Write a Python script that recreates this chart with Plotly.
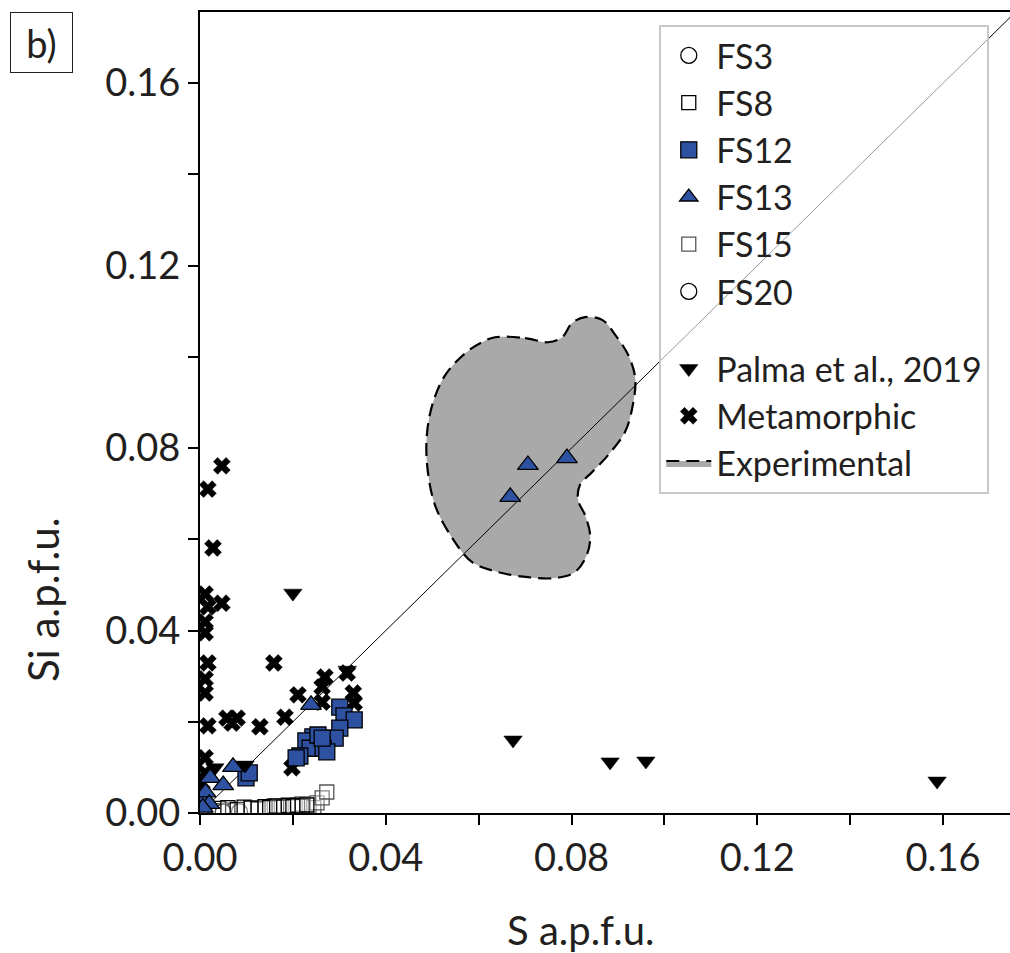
import plotly.graph_objects as go

# ---------------- data (S a.p.f.u., Si a.p.f.u.) ----------------
fs3_s = [0.0012, 0.0025, 0.0040, 0.0055, 0.0070]
fs3_si = [0.0004, 0.0006, 0.0003, 0.0005, 0.0004]

fs8_s = [0.0040, 0.0060, 0.0080, 0.0095, 0.0110, 0.0125, 0.0140, 0.0150, 0.0165, 0.0180,
         0.0190, 0.0200, 0.0210, 0.0220, 0.0230]
fs8_si = [0.0010, 0.0012, 0.0008, 0.0013, 0.0011, 0.0009, 0.0014, 0.0012, 0.0015, 0.0013,
          0.0016, 0.0014, 0.0017, 0.0015, 0.0018]

fs12_s = [0.0301, 0.0310, 0.0332, 0.0301, 0.0291, 0.0258, 0.0243, 0.0228, 0.0237, 0.0215,
          0.0207, 0.0265, 0.0273, 0.0254, 0.0263, 0.0099, 0.0106]
fs12_si = [0.0232, 0.0213, 0.0204, 0.0186, 0.0164, 0.0153, 0.0167, 0.0158, 0.0142, 0.0125,
           0.0121, 0.0142, 0.0134, 0.0171, 0.0164, 0.0077, 0.0088]

fs13_s = [0.0706, 0.0790, 0.0668, 0.0239, 0.0071, 0.0022, 0.0050, 0.0008, 0.0012, 0.0020, 0.0006]
fs13_si = [0.0763, 0.0778, 0.0693, 0.0237, 0.0101, 0.0077, 0.0061, 0.0030, 0.0045, 0.0020, 0.0012]

fs15_s = [0.0140, 0.0160, 0.0175, 0.0190, 0.0205, 0.0220, 0.0235, 0.0245, 0.0252, 0.0263, 0.0273]
fs15_si = [0.0012, 0.0016, 0.0013, 0.0018, 0.0015, 0.0020, 0.0017, 0.0012, 0.0022, 0.0033, 0.0046]

fs20_s = [0.0015, 0.0035, 0.0050, 0.0085]
fs20_si = [0.0002, 0.0003, 0.0002, 0.0003]

palma_s = [0.0200, 0.0317, 0.0674, 0.0883, 0.0960, 0.1587, 0.0032, 0.0097]
palma_si = [0.0482, 0.0313, 0.0160, 0.0112, 0.0114, 0.0070, 0.0099, 0.0105]

meta_s = [0.0047, 0.0017, 0.0028, 0.0011, 0.0017, 0.0047, 0.0011, 0.0011, 0.0017, 0.0159,
          0.0011, 0.0011, 0.0269, 0.0263, 0.0211, 0.0263, 0.0317, 0.0330, 0.0332, 0.0058,
          0.0080, 0.0069, 0.0017, 0.0129, 0.0183, 0.0011, 0.0198, 0.0011, 0.0004, 0.0004]
meta_si = [0.0761, 0.0710, 0.0581, 0.0480, 0.0452, 0.0460, 0.0419, 0.0395, 0.0329, 0.0329,
           0.0294, 0.0263, 0.0298, 0.0276, 0.0259, 0.0243, 0.0307, 0.0263, 0.0241, 0.0208,
           0.0208, 0.0197, 0.0191, 0.0189, 0.0210, 0.0121, 0.0099, 0.0088, 0.0066, 0.0044]

exp_s = [0.0635, 0.0700, 0.0749, 0.0780, 0.0801, 0.0829, 0.0866, 0.0894, 0.0922, 0.0937,
         0.0932, 0.0915, 0.0879, 0.0844, 0.0818, 0.0814, 0.0829, 0.0840, 0.0833, 0.0807,
         0.0764, 0.0706, 0.0642, 0.0586, 0.0543, 0.0506, 0.0489, 0.0489, 0.0502, 0.0528,
         0.0571, 0.0607, 0.0635]
exp_si = [0.1043, 0.1041, 0.1032, 0.1043, 0.1074, 0.1087, 0.1081, 0.1048, 0.1004, 0.0954,
          0.0895, 0.0835, 0.0785, 0.0747, 0.0719, 0.0686, 0.0653, 0.0609, 0.0566, 0.0528,
          0.0515, 0.0517, 0.0528, 0.0550, 0.0603, 0.0675, 0.0763, 0.0835, 0.0901, 0.0960,
          0.1008, 0.1032, 0.1043]

one_to_one = [0.0, 0.2]

x_ticks = [0.00, 0.04, 0.08, 0.12, 0.16]
x_ticklabels = ["0.00", "0.04", "0.08", "0.12", "0.16"]
y_ticks = [0.00, 0.04, 0.08, 0.12, 0.16]
y_ticklabels = ["0.00", "0.04", "0.08", "0.12", "0.16"]

x_title = "S a.p.f.u."
y_title = "Si a.p.f.u."

# ---------------- figure ----------------
FONT = "Lato, 'Open Sans', sans-serif"
INK = "#231F20"
BLUE = "#2E52A1"

fig = go.Figure()

# experimental field
fig.add_trace(go.Scatter(
    x=exp_s, y=exp_si, mode="lines", name="Experimental",
    fill="toself", fillcolor="#A9A9A9",
    line=dict(color="black", width=2.2, dash="13px,7px", shape="spline", smoothing=1.0),
    legendgroup="b", legendrank=9,
))

# 1:1 line
fig.add_trace(go.Scatter(
    x=one_to_one, y=one_to_one, mode="lines", showlegend=False,
    line=dict(color="black", width=1), hoverinfo="skip",
))

fig.add_trace(go.Scatter(
    x=meta_s, y=meta_si, mode="markers", name="Metamorphic",
    marker=dict(symbol="x", size=15, color="black", line=dict(color="black", width=0.5)),
    legendgroup="b", legendrank=8,
))

fig.add_trace(go.Scatter(
    x=fs3_s, y=fs3_si, mode="markers", name="FS3",
    marker=dict(symbol="circle", size=16, color="white", line=dict(color="black", width=1.3)),
    legendgroup="a", legendrank=1,
))
fig.add_trace(go.Scatter(
    x=fs20_s, y=fs20_si, mode="markers", name="FS20",
    marker=dict(symbol="circle", size=16, color="white", line=dict(color="black", width=1.3)),
    legendgroup="a", legendrank=6,
))
fig.add_trace(go.Scatter(
    x=fs15_s, y=fs15_si, mode="markers", name="FS15",
    marker=dict(symbol="square", size=14, color="rgba(255,255,255,0.3)", line=dict(color="#555555", width=1.3)),
    legendgroup="a", legendrank=5,
))
fig.add_trace(go.Scatter(
    x=fs8_s, y=fs8_si, mode="markers", name="FS8",
    marker=dict(symbol="square", size=14, color="rgba(255,255,255,0.3)", line=dict(color="black", width=1.3)),
    legendgroup="a", legendrank=2,
))
fig.add_trace(go.Scatter(
    x=fs12_s, y=fs12_si, mode="markers", name="FS12",
    marker=dict(symbol="square", size=16, color=BLUE, line=dict(color="black", width=1.3)),
    legendgroup="a", legendrank=3,
))
fig.add_trace(go.Scatter(
    x=palma_s, y=palma_si, mode="markers", name="Palma et al., 2019",
    marker=dict(symbol="triangle-down", size=16, color="black", line=dict(color="black", width=0.5)),
    legendgroup="b", legendrank=7,
))
fig.add_trace(go.Scatter(
    x=fs13_s, y=fs13_si, mode="markers", name="FS13",
    marker=dict(symbol="triangle-up", size=18, color=BLUE, line=dict(color="black", width=1.3)),
    legendgroup="a", legendrank=4,
))

axis_common = dict(
    showline=True, linecolor="black", linewidth=2,
    ticks="outside", ticklen=10, tickwidth=1.5, tickcolor="black",
    showgrid=False, zeroline=False,
    tickfont=dict(family=FONT, size=38, color=INK),
    minor=dict(ticks="outside", ticklen=10, tickwidth=1.5, tickcolor="black", dtick=0.02, showgrid=False),
)

fig.update_xaxes(range=[0, 0.1744], tickvals=x_ticks, ticktext=x_ticklabels, mirror=True, **axis_common)
fig.update_yaxes(range=[0, 0.1756], tickvals=y_ticks, ticktext=y_ticklabels, mirror=False, **axis_common)

fig.update_layout(
    width=1010, height=953,
    margin=dict(l=200, r=0, t=12, b=140, autoexpand=False),
    paper_bgcolor="white", plot_bgcolor="white",
    font=dict(family=FONT, color=INK),
    showlegend=True,
    legend=dict(
        x=0.567, y=0.984, xanchor="left", yanchor="top",
        bgcolor="rgba(255,255,255,0.6)", bordercolor="#C8C8C8", borderwidth=2,
        font=dict(family=FONT, size=34, color=INK),
        traceorder="grouped", tracegroupgap=30, itemsizing="trace", itemwidth=45,
    ),
    annotations=[
        dict(text="b)", xref="paper", yref="paper", x=-0.2346, y=1.0,
             xanchor="left", yanchor="top", showarrow=False,
             font=dict(family=FONT, size=38, color=INK),
             bordercolor=INK, borderwidth=1, borderpad=0,
             width=61, height=59, bgcolor="white"),
        dict(text=x_title, xref="paper", yref="paper",
             x=(580 - 200) / 810, y=-(930 - 813) / 801,
             xanchor="center", yanchor="middle", showarrow=False,
             font=dict(family=FONT, size=40, color=INK)),
        dict(text=y_title, xref="paper", yref="paper", textangle=-90,
             x=(43 - 200) / 810, y=(813 - 600) / 801,
             xanchor="center", yanchor="middle", showarrow=False,
             font=dict(family=FONT, size=42, color=INK)),
    ],
)

fig.write_html("out.html")
